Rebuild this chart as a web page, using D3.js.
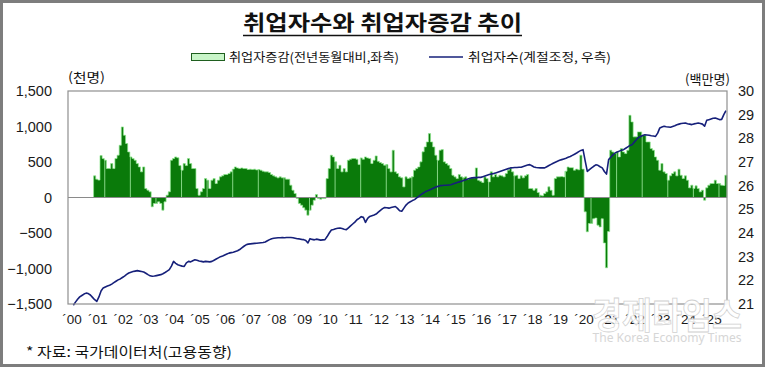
<!DOCTYPE html>
<html><head><meta charset="utf-8">
<script src="https://cdn.jsdelivr.net/npm/d3@7"></script>
<style>body{margin:0;background:#fff}svg{display:block}</style>
</head><body>
<svg id="c" width="765" height="367"></svg>
<script>
// ---- categories: months 2000-01 .. 2025-09
const months = d3.timeMonth.range(new Date(2000,0,1), new Date(2025,9,1)).map(d3.timeFormat("%Y-%m"));
const yearLabels = ["´00","´01","´02","´03","´04","´05","´06","´07","´08","´09","´10","´11","´12","´13","´14","´15","´16","´17","´18","´19","´20","´21","´22","´23","´24","´25"];
const leftTicks = [-1500,-1000,-500,0,500,1000,1500];
const rightTicks = [21,22,23,24,25,26,27,28,29,30];

// 취업자증감 (전년동월대비, 천명) – left axis
const employmentChange = [
 null,null,null,null,null,null,null,null,null,null,null,null,      // 2000
 305,258,245,590,549,525,408,408,478,408,549,596,                  // 2001
 736,994,877,760,642,572,549,525,478,431,361,431,                  // 2002
 127,103,80,-131,-84,-84,-61,-84,-178,-61,33,80,                   // 2003
 525,549,572,560,450,385,478,450,549,478,408,408,                  // 2004
 127,33,80,127,267,244,127,244,267,197,244,291,                    // 2005
 305,324,324,338,361,400,431,417,408,417,408,408,                  // 2006
 394,399,394,399,389,394,385,371,361,361,352,324,                  // 2007
 305,291,277,291,277,277,258,258,174,103,56,-14,                   // 2008
 -84,-108,-145,-178,-249,-178,-108,-38,42,-14,-23,-14,             // 2009
 -14,267,408,596,572,502,408,455,361,408,361,525,                  // 2010
 539,549,549,539,464,558,539,572,558,549,478,525,                  // 2011
 586,511,492,478,455,464,408,361,666,361,338,291,                  // 2012
 277,150,291,267,277,291,385,408,431,502,643,713,                  // 2013
 783,900,783,713,596,525,666,675,502,478,455,408,                  // 2014
 314,291,267,324,291,277,291,258,267,277,277,417,                  // 2015
 244,230,211,291,267,220,361,291,324,291,314,305,                  // 2016
 291,338,385,408,361,305,314,267,305,277,305,324,                  // 2017
 127,127,103,127,70,33,23,56,80,150,103,33,                        // 2018
 267,291,291,295,290,370,430,420,420,385,400,390,                  // 2019
 596,400,-202,-483,-366,-366,-300,-290,-390,-415,-300,-640,        // 2020
 -990,-480,666,642,619,642,572,690,642,619,666,1158,               // 2021
 1065,854,854,924,924,877,877,783,783,690,666,572,                 // 2022
 525,385,478,361,338,244,305,338,361,305,399,314,                  // 2023
 267,305,244,136,174,127,164,127,80,103,-38,136,                   // 2024
 174,197,197,244,197,197,174,170,314                               // 2025
];

// 취업자수 (계절조정, 백만명) – right axis
const employedSA = [
 null,null,20.95,21.08,21.20,21.30,21.36,21.42,21.46,21.44,21.38,21.28, // 2000
 21.18,21.11,21.30,21.55,21.68,21.72,21.76,21.79,21.84,21.90,21.96,22.02, // 2001
 22.06,22.12,22.18,22.25,22.31,22.34,22.37,22.39,22.41,22.39,22.37,22.35, // 2002
 22.30,22.24,22.19,22.17,22.18,22.20,22.22,22.24,22.28,22.33,22.39,22.45, // 2003
 22.60,22.80,22.72,22.66,22.63,22.60,22.59,22.74,22.80,22.78,22.83,22.87, // 2004
 22.85,22.82,22.80,22.78,22.80,22.79,22.78,22.80,22.85,22.90,22.95,23.00, // 2005
 23.03,23.07,23.11,23.15,23.17,23.19,23.22,23.25,23.30,23.37,23.44,23.50, // 2006
 23.53,23.54,23.55,23.56,23.57,23.58,23.59,23.60,23.62,23.67,23.72,23.76, // 2007
 23.78,23.79,23.80,23.80,23.81,23.80,23.81,23.81,23.81,23.80,23.78,23.76, // 2008
 23.75,23.73,23.72,23.68,23.58,23.76,23.73,23.71,23.74,23.72,23.70,23.71, // 2009
 23.72,23.85,24.00,24.13,24.15,24.18,24.20,24.21,24.19,24.16,24.14,24.22, // 2010
 24.30,24.38,24.46,24.56,24.62,24.69,24.66,24.45,24.62,24.70,24.73,24.76, // 2011
 24.80,24.88,24.96,25.03,25.08,25.07,25.05,25.08,25.10,25.12,25.04,24.94, // 2012
 24.92,25.05,25.18,25.27,25.32,25.37,25.41,25.48,25.55,25.62,25.68,25.74, // 2013
 25.78,25.82,25.86,25.90,25.94,25.97,26.00,26.01,26.02,26.02,26.03,26.04, // 2014
 26.07,26.10,26.13,26.16,26.19,26.22,26.25,26.28,26.31,26.33,26.34,26.34, // 2015
 26.35,26.35,26.38,26.41,26.44,26.47,26.49,26.51,26.54,26.57,26.60,26.63, // 2016
 26.66,26.69,26.72,26.75,26.76,26.77,26.77,26.78,26.78,26.81,26.84,26.87, // 2017
 26.89,26.84,26.79,26.77,26.76,26.75,26.76,26.75,26.80,26.85,26.90,26.95, // 2018
 26.99,27.03,27.07,27.10,27.13,27.16,27.20,27.23,27.28,27.33,27.38,27.44, // 2019
 27.49,27.52,27.05,26.60,26.68,26.75,26.82,26.88,26.86,26.80,26.75,26.60, // 2020
 26.49,27.10,27.20,27.30,27.38,27.42,27.46,27.50,27.52,27.58,27.64,27.70, // 2021
 27.73,27.84,27.94,28.04,28.08,28.12,28.15,28.14,28.13,28.11,28.10,28.08, // 2022
 28.22,28.44,28.48,28.51,28.49,28.48,28.47,28.50,28.53,28.57,28.60,28.63, // 2023
 28.64,28.65,28.62,28.60,28.58,28.61,28.63,28.65,28.63,28.60,28.51,28.76, // 2024
 28.79,28.82,28.85,28.86,28.83,28.79,28.80,29.00,29.17                    // 2025
];

const KR = "'Noto Sans CJK KR', sans-serif";
const LAT = "'Liberation Sans', Arial, sans-serif";
const svg = d3.select("#c");
const P = {l:68, r:727, t:91, b:304};

svg.append("rect").attr("x",0).attr("y",0).attr("width",765).attr("height",367).attr("fill","#fff");

const x = d3.scaleBand().domain(months).range([P.l, P.r]).padding(0);
const bw = x.bandwidth();
const yL = d3.scaleLinear().domain([-1500,1500]).range([P.b, P.t]);
const yR = d3.scaleLinear().domain([21,30]).range([P.b, P.t]);

// bars: contiguous columns (gap 0) drawn as one stepped area, then light edges
const barData = months.map((mo,i)=>({mo, v: employmentChange[i]})).filter(d=>d.v!=null);
const last = barData[barData.length-1];
const stepPts = barData.map(d=>({px:x(d.mo), v:d.v})).concat([{px:x(last.mo)+bw, v:last.v}]);
svg.append("path").datum(stepPts)
  .attr("d", d3.area().curve(d3.curveStepAfter).x(d=>d.px).y0(yL(0)).y1(d=>yL(d.v)))
  .attr("fill","#0a7a0a");

// faint light separators between some columns (as seen in the reference)
const sepData = barData.filter(d=>d.mo.endsWith("-06"));
svg.append("g").selectAll("line").data(sepData).join("line")
  .attr("x1",d=>x(d.mo)+0.5).attr("x2",d=>x(d.mo)+0.5)
  .attr("y1",yL(0)).attr("y2",d=>yL(d.v))
  .attr("stroke","#a6eea6").attr("stroke-width",0.8);

const outlinePts = [[x(barData[0].mo), yL(0)]]
  .concat(barData.map(d=>[x(d.mo), yL(d.v)]))
  .concat([[x(last.mo)+bw, yL(last.v)], [x(last.mo)+bw, yL(0)]]);
svg.append("path").attr("d", d3.line().curve(d3.curveStepAfter)(outlinePts))
  .attr("fill","none").attr("stroke","#8fe88f").attr("stroke-width",0.7);

// zero line
svg.append("line").attr("x1",P.l).attr("x2",P.r).attr("y1",yL(0)).attr("y2",yL(0))
  .attr("stroke","#8a8a8a").attr("stroke-width",1.2);

// employed line
const lineData = months.map((mo,i)=>({mo, v: employedSA[i]}));
svg.append("path").datum(lineData)
  .attr("d", d3.line().defined(d=>d.v!=null).x(d=>x(d.mo)+bw/2).y(d=>yR(d.v)))
  .attr("fill","none").attr("stroke","#16207a").attr("stroke-width",1.6).attr("stroke-linejoin","round");

// frame
svg.append("rect").attr("x",P.l).attr("y",P.t).attr("width",P.r-P.l).attr("height",P.b-P.t)
  .attr("fill","none").attr("stroke","#8f8f8f").attr("stroke-width",1.2);

// axes
const gL = svg.append("g").attr("transform",`translate(${P.l},0)`)
  .call(d3.axisLeft(yL).tickValues(leftTicks).tickSize(0).tickPadding(16).tickFormat(d3.format(",")));
const gR = svg.append("g").attr("transform",`translate(${P.r},0)`)
  .call(d3.axisRight(yR).tickValues(rightTicks).tickSize(0).tickPadding(11));
const janMonths = months.filter(m=>m.endsWith("-01"));
const gX = svg.append("g").attr("transform",`translate(0,${P.b})`)
  .call(d3.axisBottom(x).tickValues(janMonths).tickSize(0).tickPadding(10)
        .tickFormat((m,i)=>yearLabels[i]));
[gL,gR,gX].forEach(g=>{
  g.select(".domain").remove();
  g.selectAll("text").attr("font-family",LAT).attr("fill","#1a1a1a");
});
gL.selectAll("text").attr("font-size",14.5);
gR.selectAll("text").attr("font-size",14.5);
gX.selectAll("text").attr("font-size",13.5).attr("dx",3);

// title
svg.append("text").attr("x",382.5).attr("y",30).attr("text-anchor","middle")
  .attr("font-family",KR).attr("font-weight","bold").attr("font-size",21)
  .attr("textLength",279).attr("lengthAdjust","spacingAndGlyphs").attr("fill","#111")
  .text("취업자수와 취업자증감 추이");
svg.append("line").attr("x1",243).attr("x2",522).attr("y1",35.5).attr("y2",35.5)
  .attr("stroke","#111").attr("stroke-width",1.6);

// legend
svg.append("rect").attr("x",191.5).attr("y",53.5).attr("width",33).attr("height",7)
  .attr("fill","#c8f5c8").attr("stroke","#1f5f1f").attr("stroke-width",1);
svg.append("text").attr("x",229).attr("y",62).attr("font-family",KR).attr("font-size",12.5)
  .attr("textLength",170).attr("lengthAdjust","spacingAndGlyphs").attr("fill","#111")
  .text("취업자증감(전년동월대비,좌측)");
svg.append("line").attr("x1",429).attr("x2",463).attr("y1",57).attr("y2",57)
  .attr("stroke","#16207a").attr("stroke-width",1.6);
svg.append("text").attr("x",468).attr("y",62).attr("font-family",KR).attr("font-size",12.5)
  .attr("textLength",143).attr("lengthAdjust","spacingAndGlyphs").attr("fill","#111")
  .text("취업자수(계절조정, 우측)");

// unit labels
svg.append("text").attr("x",68).attr("y",82).attr("font-family",KR).attr("font-size",13)
  .attr("textLength",37).attr("lengthAdjust","spacingAndGlyphs").attr("fill","#111").text("(천명)");
svg.append("text").attr("x",685).attr("y",84).attr("font-family",KR).attr("font-size",13)
  .attr("textLength",45).attr("lengthAdjust","spacingAndGlyphs").attr("fill","#111").text("(백만명)");

// source
svg.append("text").attr("x",26).attr("y",357).attr("font-family",KR).attr("font-size",14)
  .attr("textLength",206).attr("lengthAdjust","spacingAndGlyphs").attr("fill","#111")
  .text("* 자료: 국가데이터처(고용동향)");

// watermark
svg.append("text").attr("x",667).attr("y",329).attr("text-anchor","middle")
  .attr("font-family",KR).attr("font-weight","bold").attr("font-size",36)
  .attr("textLength",150).attr("lengthAdjust","spacingAndGlyphs")
  .attr("fill","#ffffff").attr("fill-opacity",0.92).attr("stroke","#d0d0d0").attr("stroke-width",0.8)
  .text("경제타임스");
svg.append("text").attr("x",667).attr("y",342).attr("text-anchor","middle")
  .attr("font-family","'Noto Sans', sans-serif").attr("font-size",13)
  .attr("textLength",149).attr("lengthAdjust","spacingAndGlyphs")
  .attr("fill","#d6d6d6").text("The Korea Economy Times");

// outer border
svg.append("rect").attr("x",1.5).attr("y",1.5).attr("width",762).attr("height",364)
  .attr("fill","none").attr("stroke","#7d7d7d").attr("stroke-width",3);
</script>
</body></html>
